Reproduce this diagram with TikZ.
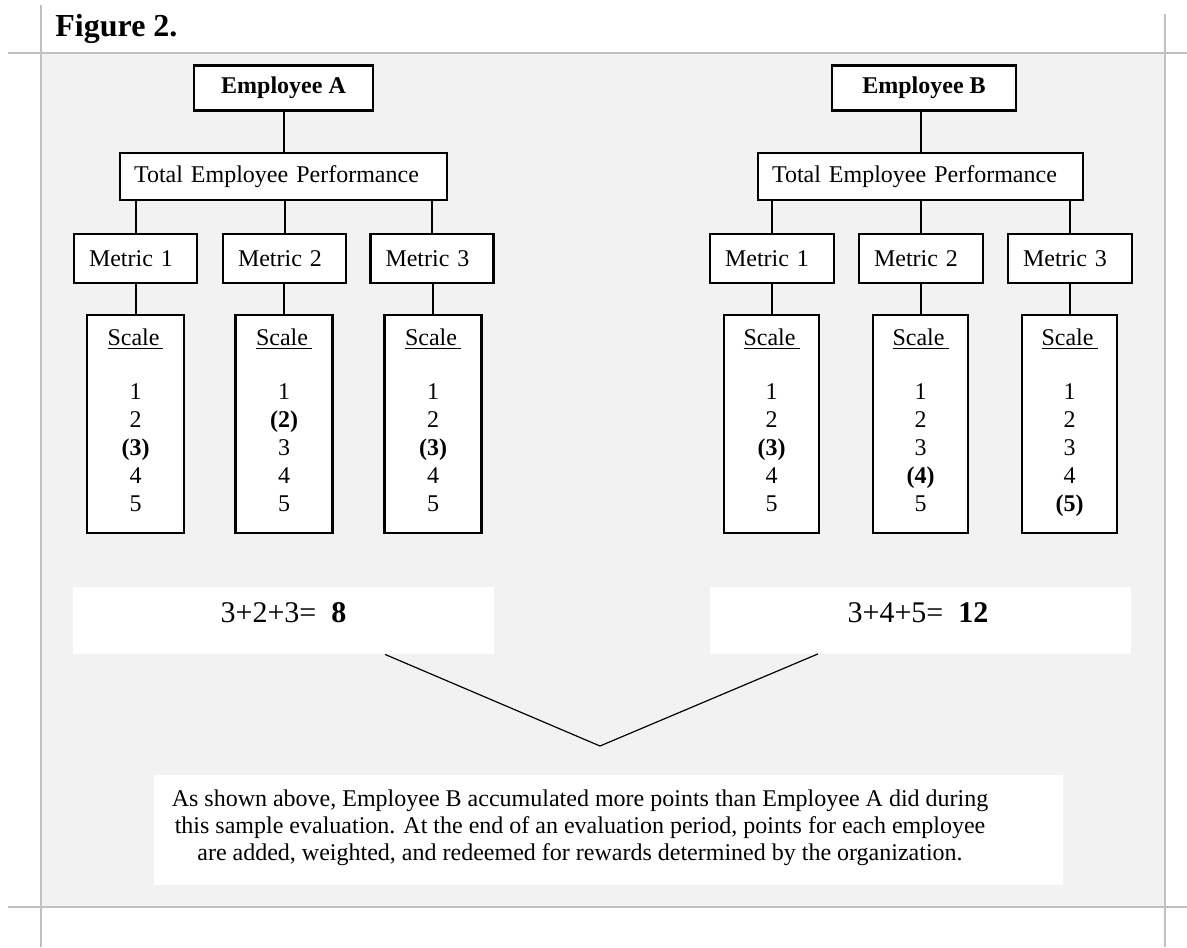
\documentclass[tikz,border=0pt]{standalone}
\usepackage{fontspec}
\setmainfont{Liberation Serif}
\definecolor{panel}{HTML}{F2F2F2}
\definecolor{rulegray}{HTML}{C0C0C0}
\begin{document}
\begin{tikzpicture}[x=0.5pt, y=-0.5pt,
  every node/.style={font=\fontsize{12}{14}\selectfont, inner sep=0pt},
  emp/.style={draw, line width=1.3pt, fill=white, minimum height=22.5pt, font=\fontsize{12}{14}\selectfont\bfseries},
  total/.style={draw, line width=1.1pt, fill=white, minimum height=23.5pt, inner xsep=7pt, text width=#1, align=left},
  metric/.style={draw, line width=1.1pt, fill=white, minimum height=24.5pt, inner xsep=7.5pt, text width=#1, align=left},
  scalebox/.style={draw, line width=1.3pt, fill=white, minimum width=#1, minimum height=109pt, align=center, text depth=4pt},
  sumbox/.style={fill=white, minimum width=210.5pt, minimum height=33.5pt},
  link/.style={line width=1pt},
  rule/.style={rulegray, line width=1pt}]
\useasboundingbox (0,0) rectangle (1187,947);
\fill[panel] (41,53) rectangle (1165,907);
\draw[rule] (41,5) -- (41,947);
\draw[rule] (1165,14) -- (1165,947);
\draw[rule] (8,53) -- (1187,53);
\draw[rule] (8,907) -- (1187,907);
\node[anchor=base west, font=\fontsize{16}{19}\selectfont\bfseries] (title) at (55,37) {Figure 2.};

\node[emp, minimum width=89.5pt] (empA) at (283.5,88) {Employee A};
\node[total=149.5pt] (totA) at (283.5,176.5) {Total Employee Performance};
\node[metric=46.5pt] (metA1) at (135.5,258.5) {Metric 1};
\node[metric=46.5pt] (metA2) at (284.5,258.5) {Metric 2};
\node[metric=46.5pt] (metA3) at (432,258.5) {Metric 3};
\node[scalebox=48.5pt] (sclA1) at (135.5,424) {\underline{Scale\,}\\[13pt]1\\2\\\textbf{(3)}\\4\\5};
\node[scalebox=48.5pt] (sclA2) at (284,424) {\underline{Scale\,}\\[13pt]1\\\textbf{(2)}\\3\\4\\5};
\node[scalebox=48.5pt] (sclA3) at (433,424) {\underline{Scale\,}\\[13pt]1\\2\\\textbf{(3)}\\4\\5};

\node[emp, minimum width=92pt] (empB) at (924,88) {Employee B};
\node[total=148.5pt] (totB) at (920.5,176.5) {Total Employee Performance};
\node[metric=47pt] (metB1) at (772,258.5) {Metric 1};
\node[metric=47pt] (metB2) at (921,258.5) {Metric 2};
\node[metric=47pt] (metB3) at (1070,258.5) {Metric 3};
\node[scalebox=47.5pt] (sclB1) at (771.5,424) {\underline{Scale\,}\\[13pt]1\\2\\\textbf{(3)}\\4\\5};
\node[scalebox=47.5pt] (sclB2) at (920.5,424) {\underline{Scale\,}\\[13pt]1\\2\\3\\\textbf{(4)}\\5};
\node[scalebox=47.5pt] (sclB3) at (1069.5,424) {\underline{Scale\,}\\[13pt]1\\2\\3\\4\\\textbf{(5)}};

\foreach \s in {A,B} {
  \draw[link] (tot\s) -- (tot\s |- emp\s.south);
  \foreach \i in {1,2,3} {
    \draw[link] (met\s\i) -- (met\s\i |- tot\s.south);
    \draw[link] (scl\s\i) -- (scl\s\i |- met\s\i.south);
  }
}

\node[sumbox] (sumA) at (283.5,620.5) {};
\node[sumbox] (sumB) at (920,620) {};
\node[anchor=base, font=\fontsize{15}{18}\selectfont] (sumAtext) at (283.5,622) {3+2+3=\ \ \textbf{8}};
\node[anchor=base, font=\fontsize{15}{18}\selectfont] (sumBtext) at (918,622) {3+4+5=\ \ \textbf{12}};
\coordinate (vbot) at (600,746);
\draw[line width=0.6pt] ([xshift=50.75pt]sumA.south) -- (vbot) -- ([xshift=-51pt]sumB.south);

\node[fill=white, minimum width=454.5pt, minimum height=55pt] (note) at (608.5,830) {};
\node[align=center, font=\fontsize{12}{13.5}\selectfont] (notetext) at (580,828) {As shown above, Employee B accumulated more points than Employee A did during\\this sample evaluation. At the end of an evaluation period, points for each employee\\are added, weighted, and redeemed for rewards determined by the organization.};
\end{tikzpicture}
\end{document}
